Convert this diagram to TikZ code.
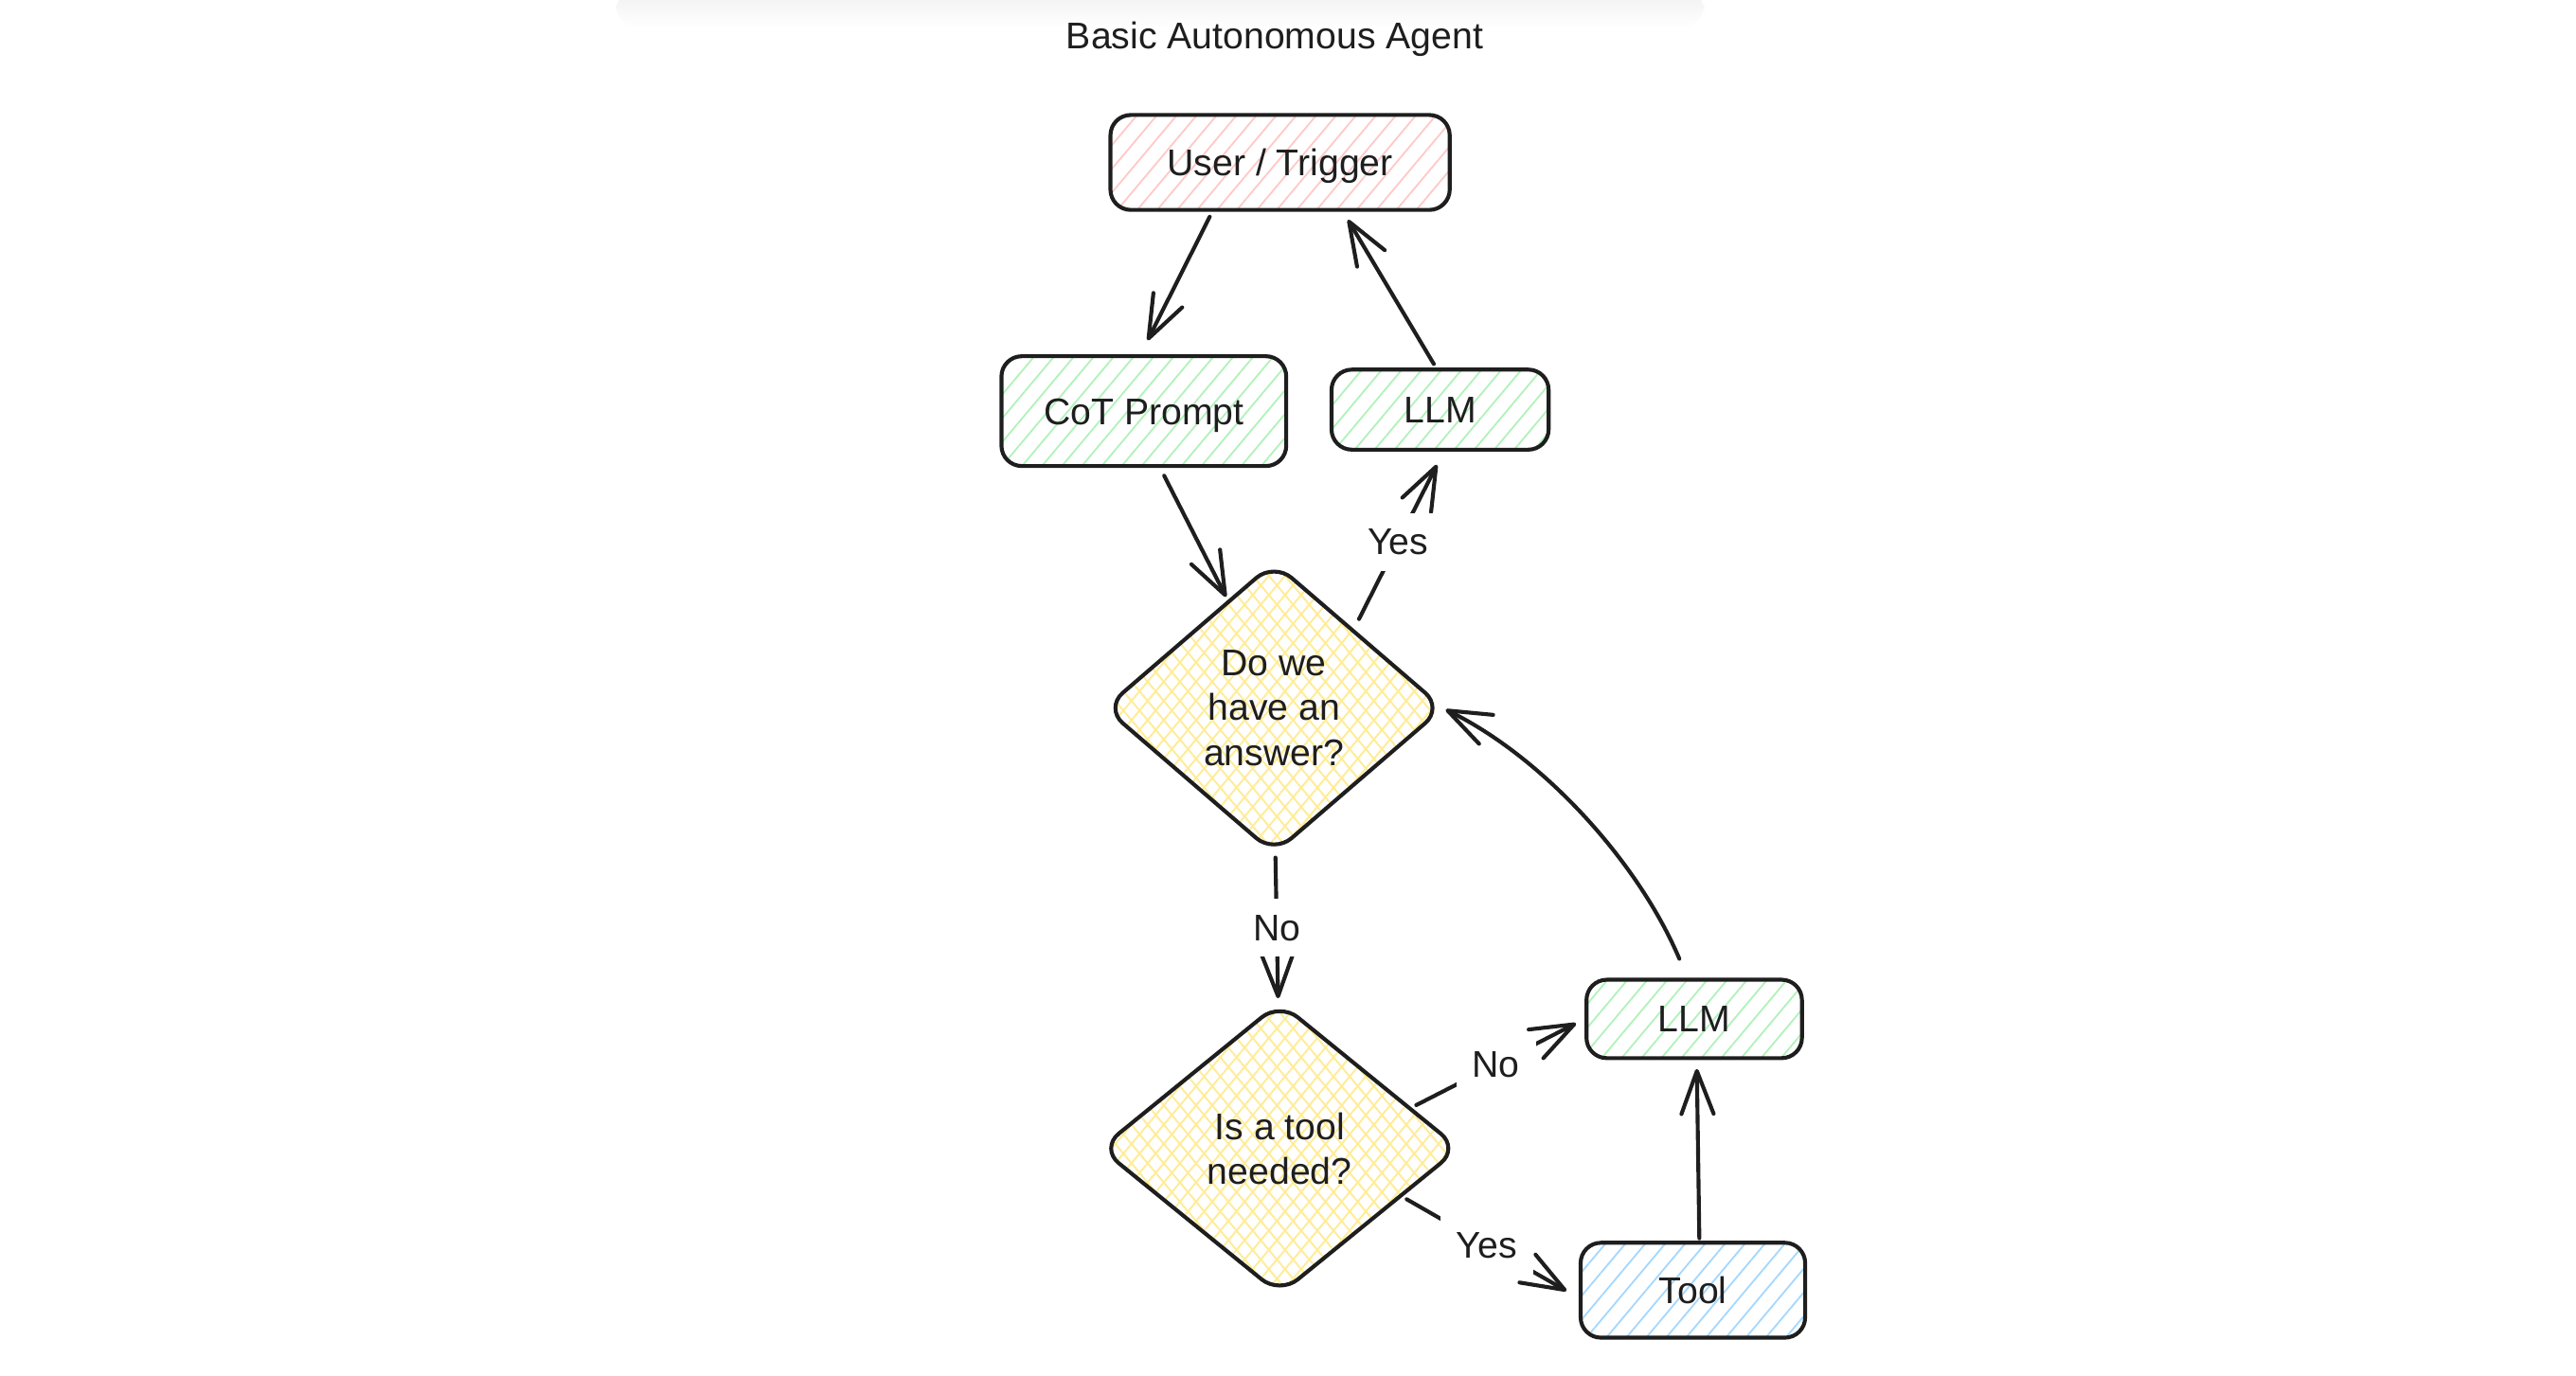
\documentclass[tikz,border=0pt]{standalone}
\usepackage{fontspec}
\setmainfont{Liberation Sans}
\usetikzlibrary{calc,arrows.meta,shapes.geometric,patterns.meta}
\definecolor{ink}{HTML}{1E1E1E}
\definecolor{redhatch}{HTML}{FFC9C9}
\definecolor{greenhatch}{HTML}{B2F2BB}
\definecolor{bluehatch}{HTML}{A5D8FF}
\definecolor{yellowhatch}{HTML}{FFEC99}
\newcommand{\agentfont}{\fontsize{12.8}{15.4}\selectfont}
\tikzset{
    component/.style={
    rectangle,rounded corners=7pt,draw=ink,line width=1.35pt,inner sep=0pt,
    text=ink,font=\agentfont,text height=4.05mm,text depth=0.83mm
    },
    usercp/.style={
    component,pattern={Lines[angle=50,distance=1.85mm,line width=0.6pt]},pattern color=redhatch
    },
    llmcp/.style={
    component,pattern={Lines[angle=50,distance=1.85mm,line width=0.6pt]},pattern color=greenhatch
    },
    toolcp/.style={
    component,pattern={Lines[angle=50,distance=1.85mm,line width=0.6pt]},pattern color=bluehatch
    },
    decision/.style={
    diamond,rounded corners=8pt,draw=ink,line width=1.35pt,inner sep=0pt,align=center,
    text=ink,font=\agentfont,
    pattern={Lines[angle=50,distance=1.5mm,line width=0.65pt]},pattern color=yellowhatch,
    preaction={pattern={Lines[angle=-50,distance=1.5mm,line width=0.65pt]},pattern color=yellowhatch}
    },
    flow/.style={
    -{Straight Barb[length=5.2mm,width=3.9mm,round]},draw=ink,line width=1.35pt,line cap=round
    },
    answer/.style={
    fill=white,inner sep=5.5pt,text=ink,font=\agentfont
    },
}
\begin{document}
\begin{tikzpicture}[x=0.02cm,y=0.02cm]
   \useasboundingbox (0,0) rectangle (1560,832.8);
   % faint shadow at the top edge
   \shade[top color=black!6,bottom color=white,rounded corners=8pt] (373,840) rectangle (1032,816);

   \node[text=ink,font=\agentfont,anchor=base] (title) at (772,803.4) {Basic Autonomous Agent};
   \node[usercp,minimum width=4.11cm,minimum height=1.15cm] (user) at (775.2,734.4) {User / Trigger};
   \node[llmcp,minimum width=3.45cm,minimum height=1.33cm] (cot) at (692.7,583.8) {CoT Prompt};
   \node[llmcp,minimum width=2.63cm,minimum height=0.97cm] (llmA) at (872.1,584.7) {LLM};
   \node[decision,minimum width=4.1cm,minimum height=3.53cm] (ans) at (771.5,404) {Do we\\have an\\answer?};
   \node[decision,minimum width=4.36cm,minimum height=3.55cm] (need) at (775,137.3) {Is a tool\\needed?};
   \node[llmcp,minimum width=2.61cm,minimum height=0.95cm] (llmB) at (1026,215.7) {LLM};
   \node[toolcp,minimum width=2.72cm,minimum height=1.15cm] (tool) at (1025.2,51.4) {Tool};

  \path
             ($(user.south)+(-42.6,-3.6)$)  edge [flow]   ($(cot.north)+(2.3,8.5)$)
             ($(llmA.north)+(-3.8,2.2)$)    edge [flow]   ($(user.south)+(41.1,-5.5)$)
             ($(cot.south)+(12.3,-4.7)$)    edge [flow]   ($(ans.north)+(-29,-21.5)$)
             ($(ans.north)+(51.5,-34.9)$)   edge [flow]   node [answer] {Yes}   ($(llmA.south)+(-1.9,-8)$)
             ($(ans.south)+(0.9,-1.8)$)     edge [flow]   node [answer] {No}    ($(need.north)+(-1,1)$)
             ($(need.east)+(-27.5,26.2)$)   edge [flow]   node [answer] {No}    ($(llmB.west)+(-5.2,-2.7)$)
             ($(need.east)+(-33.3,-30.8)$)  edge [flow]   node [answer] {Yes}   ($(tool.west)+(-7.4,-0.4)$)
             ($(tool.north)+(3.9,1.5)$)     edge [flow]   ($(llmB.south)+(1.6,-5.4)$)
             ($(llmB.north)+(-9,11.5)$)     edge [flow,out=113,in=-26,looseness=0.8]   ($(ans.east)+(1,-1)$);
\end{tikzpicture}
\end{document}
